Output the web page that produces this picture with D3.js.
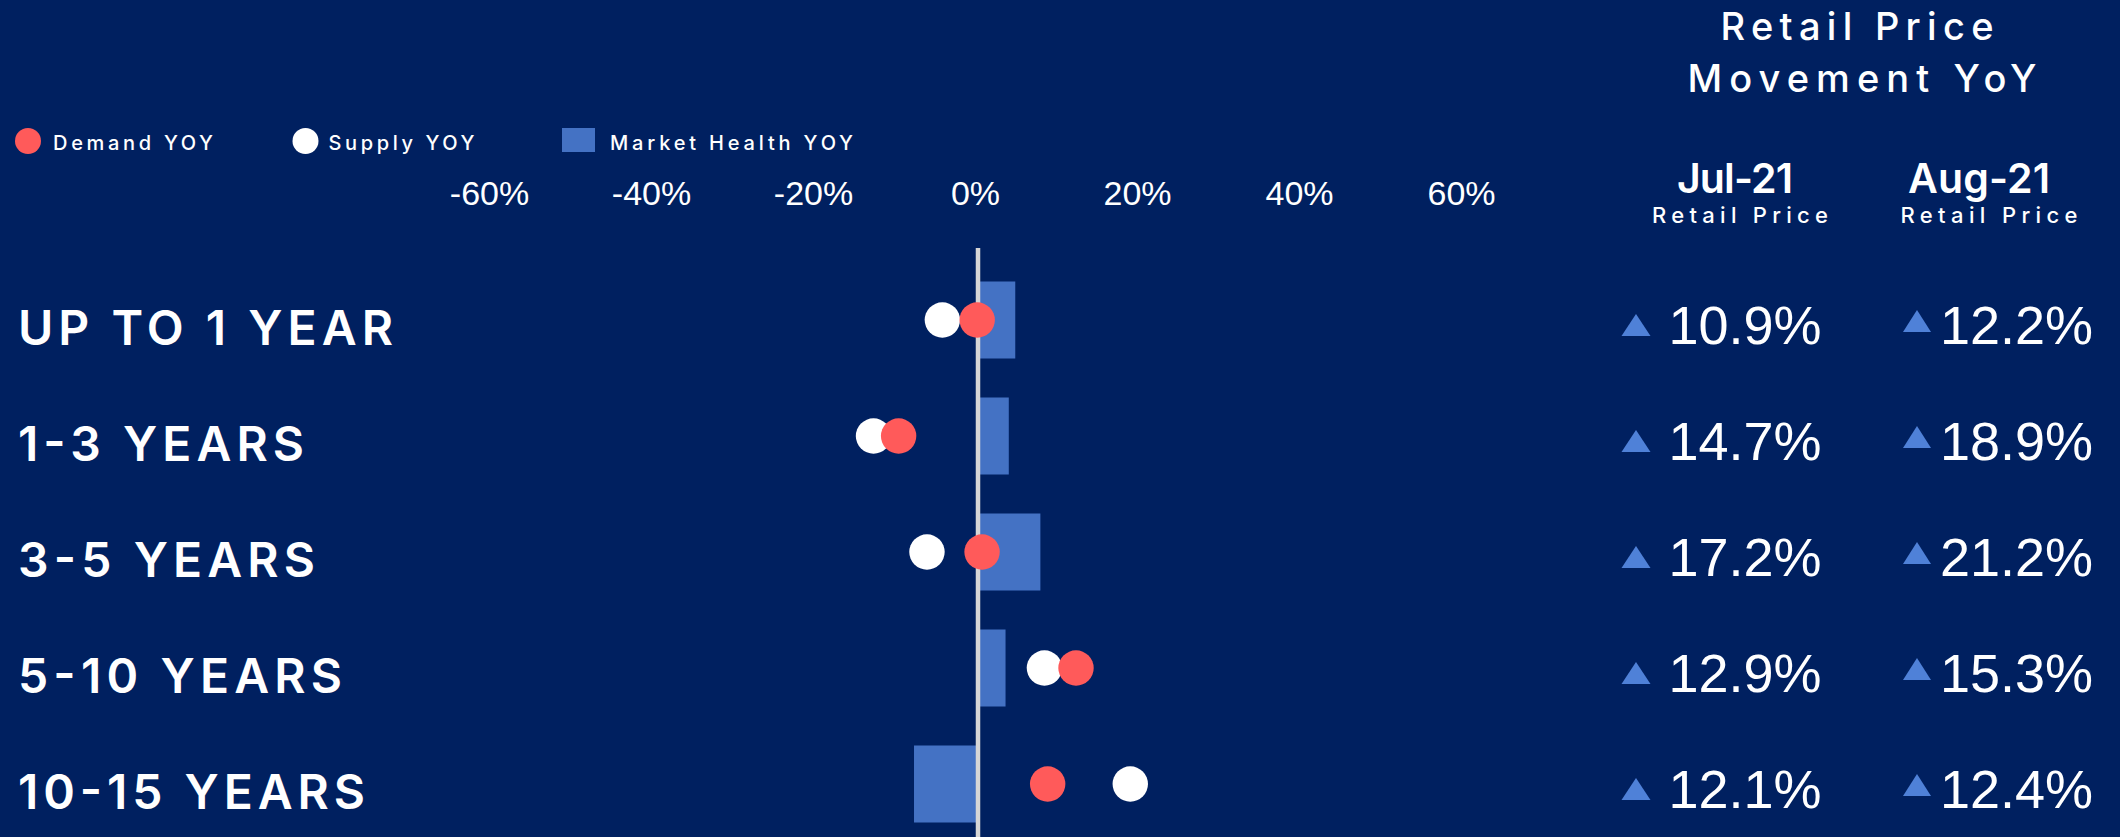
<!DOCTYPE html>
<html>
<head>
<meta charset="utf-8">
<script src="https://cdn.jsdelivr.net/npm/d3@7"></script>
<style>
  html, body { margin: 0; padding: 0; background: #002060; }
  svg { display: block; }
</style>
</head>
<body>
<svg id="chart" width="2120" height="837"></svg>
<script>
// ---------------- DATA ----------------
const categories = ["UP TO 1 YEAR", "1-3 YEARS", "3-5 YEARS", "5-10 YEARS", "10-15 YEARS"];
const demandYoY = [-0.1, -9.8, 0.5, 12.1, 8.6];
const supplyYoY = [-4.4, -12.9, -6.3, 8.2, 18.8];
const marketHealthYoY = [4.6, 3.8, 7.7, 3.4, -7.9];
const tickValues = [-60, -40, -20, 0, 20, 40, 60];
const legendLabels = ["Demand YOY", "Supply YOY", "Market Health YOY"];
const priceTitle = ["Retail Price", "Movement YoY"];
const priceMonths = ["Jul-21", "Aug-21"];
const priceSubLabel = "Retail Price";
const retailJul = ["10.9%", "14.7%", "17.2%", "12.9%", "12.1%"];
const retailAug = ["12.2%", "18.9%", "21.2%", "15.3%", "12.4%"];

// ---------------- STYLE / LAYOUT ----------------
const COL = { bg: "#002060", demand: "#FF5A5A", supply: "#FFFFFF", bar: "#4472C4", tri: "#4F81D8", zero: "#D6D6D6", text: "#FFFFFF" };
const svg = d3.select("#chart");
svg.append("rect").attr("width", 2120).attr("height", 837).attr("fill", COL.bg);

const x = d3.scaleLinear().domain([-60, 60]).range([492, 1464]);
const y = d3.scalePoint().domain(categories).range([320, 784]);
const barH = 77;
const dotR = 17.7;

// x axis tick labels (top)
const axis = d3.axisTop(x).tickValues(tickValues).tickFormat(d => d + "%").tickSize(0).tickPadding(0);
const gAxis = svg.append("g").attr("transform", "translate(-3,205)").call(axis);
gAxis.select(".domain").remove();
gAxis.selectAll("text")
  .attr("fill", COL.text)
  .style("font-family", "'Liberation Sans', Arial, sans-serif")
  .style("font-size", "34px");

// bars
svg.append("g").selectAll("rect").data(categories).join("rect")
  .attr("x", (d, i) => Math.min(x(0), x(marketHealthYoY[i])))
  .attr("width", (d, i) => Math.abs(x(marketHealthYoY[i]) - x(0)))
  .attr("y", d => y(d) - barH / 2)
  .attr("height", barH)
  .attr("fill", COL.bar);

// zero line
svg.append("line")
  .attr("x1", x(0)).attr("x2", x(0))
  .attr("y1", 248).attr("y2", 837)
  .attr("stroke", COL.zero).attr("stroke-width", 4.5);

// supply dots then demand dots
svg.append("g").selectAll("circle").data(categories).join("circle")
  .attr("cx", (d, i) => x(supplyYoY[i]))
  .attr("cy", d => y(d))
  .attr("r", dotR)
  .attr("fill", COL.supply);
svg.append("g").selectAll("circle").data(categories).join("circle")
  .attr("cx", (d, i) => x(demandYoY[i]))
  .attr("cy", d => y(d))
  .attr("r", dotR)
  .attr("fill", COL.demand);

// category labels
const labelWidths = [375, 286, 297, 324, 347];
svg.append("g").selectAll("text").data(categories).join("text")
  .attr("x", 18)
  .attr("y", d => y(d) + 8 + 17)
  .attr("textLength", (d, i) => labelWidths[i])
  .attr("lengthAdjust", "spacing")
  .attr("fill", COL.text)
  .style("font-family", "Inter, 'Noto Sans', sans-serif")
  .style("font-weight", 600)
  .style("font-size", "48px")
  .text(d => d);

// legend
const legendLayout = [
  { mx: 28, tx: 53, w: 160, type: "circle", color: COL.demand },
  { mx: 305.5, tx: 328.5, w: 146, type: "circle", color: COL.supply },
  { mx: 578.5, tx: 610, w: 243, type: "rect", color: COL.bar }
];
const gLeg = svg.append("g");
legendLabels.forEach((lab, i) => {
  const L = legendLayout[i];
  if (L.type === "circle") {
    gLeg.append("circle").attr("cx", L.mx).attr("cy", 141).attr("r", 13).attr("fill", L.color);
  } else {
    gLeg.append("rect").attr("x", L.mx - 16.5).attr("y", 128).attr("width", 33).attr("height", 24).attr("fill", L.color);
  }
  gLeg.append("text")
    .attr("x", L.tx).attr("y", 150)
    .attr("textLength", L.w).attr("lengthAdjust", "spacing")
    .attr("fill", COL.text)
    .style("font-family", "Inter, 'Noto Sans', sans-serif")
    .style("font-weight", 500)
    .style("font-size", "20px")
    .text(lab);
});

// right panel title
const titleLayout = [{ cx: 1857, by: 40, w: 273 }, { cx: 1862, by: 92, w: 349 }];
priceTitle.forEach((t, i) => {
  svg.append("text")
    .attr("x", titleLayout[i].cx).attr("y", titleLayout[i].by)
    .attr("text-anchor", "middle")
    .attr("textLength", titleLayout[i].w).attr("lengthAdjust", "spacing")
    .attr("fill", COL.text)
    .style("font-family", "Inter, 'Noto Sans', sans-serif")
    .style("font-weight", 500)
    .style("font-size", "38px")
    .text(t);
});

// month headers
const monthLayout = [{ cx: 1735, w: 116, scx: 1740, sw: 176 }, { cx: 1979, w: 142, scx: 1989, sw: 177 }];
priceMonths.forEach((m, i) => {
  const L = monthLayout[i];
  svg.append("text")
    .attr("x", L.cx).attr("y", 193)
    .attr("text-anchor", "middle")
    .attr("textLength", L.w).attr("lengthAdjust", "spacing")
    .attr("fill", COL.text)
    .style("font-family", "Inter, 'Noto Sans', sans-serif")
    .style("font-weight", 600)
    .style("font-size", "41px")
    .text(m);
  svg.append("text")
    .attr("x", L.scx).attr("y", 223)
    .attr("text-anchor", "middle")
    .attr("textLength", L.sw).attr("lengthAdjust", "spacing")
    .attr("fill", COL.text)
    .style("font-family", "Inter, 'Noto Sans', sans-serif")
    .style("font-weight", 500)
    .style("font-size", "22px")
    .text(priceSubLabel);
});

// retail values with triangles
const tri = (cx, baseY, w, h) => `M${cx - w / 2},${baseY} L${cx + w / 2},${baseY} L${cx},${baseY - h} Z`;
const gVals = svg.append("g");
categories.forEach((c, i) => {
  const cy = y(c);
  gVals.append("path").attr("d", tri(1636, cy + 16, 29, 22)).attr("fill", COL.tri);
  gVals.append("path").attr("d", tri(1917, cy + 12, 28, 22)).attr("fill", COL.tri);
  gVals.append("text")
    .attr("x", 1745).attr("y", cy + 5 + 19)
    .attr("text-anchor", "middle")
    .attr("fill", COL.text)
    .style("font-family", "'Liberation Sans', Arial, sans-serif")
    .style("font-size", "54px")
    .text(retailJul[i]);
  gVals.append("text")
    .attr("x", 1940).attr("y", cy + 5 + 19)
    .attr("text-anchor", "start")
    .attr("fill", COL.text)
    .style("font-family", "'Liberation Sans', Arial, sans-serif")
    .style("font-size", "54px")
    .text(retailAug[i]);
});
</script>
</body>
</html>
